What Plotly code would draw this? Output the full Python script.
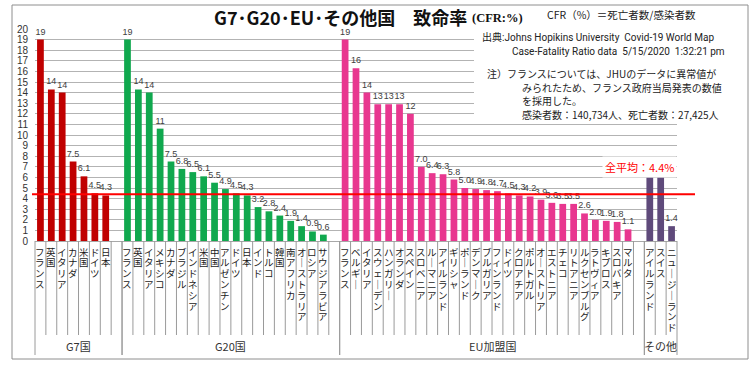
import plotly.graph_objects as go

# ---------------- data ----------------
g7_names = ["フランス", "英国", "イタリア", "カナダ", "米国", "ドイツ", "日本"]
g7_vals = [19.0, 14.3, 14.0, 7.5, 6.1, 4.5, 4.3]

g20_names = ["フランス", "英国", "イタリア", "メキシコ", "カナダ", "ブラジル", "インドネシア",
             "米国", "中国", "アルゼンチン", "ドイツ", "日本", "インド", "トルコ", "韓国",
             "南アフリカ", "オーストラリア", "ロシア", "サウジアラビア"]
g20_vals = [19.0, 14.3, 14.0, 10.6, 7.5, 6.8, 6.5, 6.1, 5.5, 4.9, 4.5, 4.3, 3.2, 2.8, 2.4,
            1.9, 1.4, 0.9, 0.6]

eu_names = ["フランス", "ベルギー", "イタリア", "スウェーデン", "ハンガリー", "オランダ", "スペイン",
            "スロベニア", "ルーマニア", "アイルランド", "ギリシャ", "ポーランド", "デンマーク",
            "ブルガリア", "フィンランド", "ドイツ", "クロアチア", "ポルトガル", "オーストリア",
            "エストニア", "チェコ", "リトアニア", "ルクセンブルグ", "ラトヴィア", "キプロス",
            "スロバキア", "マルタ"]
eu_vals = [19.0, 16.3, 14.0, 12.9, 12.9, 12.9, 12.0, 7.0, 6.4, 6.3, 5.8, 5.0, 4.9, 4.8, 4.7,
           4.5, 4.3, 4.2, 3.9, 3.6, 3.5, 3.5, 2.6, 2.0, 1.9, 1.8, 1.1]

oth_names = ["アイルランド", "スイス", "ニュージーランド"]
oth_vals = [6.0, 6.0, 1.4]
oth_label_hidden = [True, True, False]

group_titles = ["G7国", "G20国", "EU加盟国", "その他"]
group_colors = ["#C00000", "#10A84E", "#E8378F", "#5F4A7B"]
overall_avg = 4.4

# ---------------- geometry helpers ----------------
W, H = 750, 370
ML, MR, MT, MB = 35, 73, 29, 129
PW = W - ML - MR
PH = H - MT - MB


def xp(px):
    return (px - ML) / PW


def yp(py):
    return (H - MB - py) / PH


def fmt(v):
    return f"{v:.0f}" if v >= 9.95 else f"{v:.1f}"


groups = [
    (g7_names, g7_vals, [False] * len(g7_vals)),
    (g20_names, g20_vals, [False] * len(g20_vals)),
    (eu_names, eu_vals, [False] * len(eu_vals)),
    (oth_names, oth_vals, oth_label_hidden),
]

spans = []
start = 0
for gi, (names, vals, hid) in enumerate(groups):
    n = len(names)
    slots = n + (1 if gi < len(groups) - 1 else 0)
    spans.append((start, n, slots))
    start += slots
N = start
XMIN, XMAX = -0.5, N - 0.5


def dx2p(x):
    return (x - XMIN) / (XMAX - XMIN)


fig = go.Figure()
annotations = []
shapes = []

for gi, (names, vals, hid) in enumerate(groups):
    s, n, slots = spans[gi]
    xs = [s + i for i in range(n)]
    labels = ["" if h else fmt(v) for v, h in zip(vals, hid)]
    fig.add_trace(go.Bar(
        x=xs, y=vals, width=0.62,
        marker=dict(color=group_colors[gi], line=dict(width=0)),
        text=labels, textposition="outside", constraintext="none", cliponaxis=False,
        textfont=dict(size=9, color="#404040", family="Liberation Sans, Arial"),
        hoverinfo="skip",
    ))
    for i, name in enumerate(names):
        for k, ch in enumerate(name):
            if ch == "ー":
                ch = "｜"
            annotations.append(dict(
                x=s + i, xref="x", y=0, yref="paper", yanchor="middle", xanchor="center",
                yshift=-(10.5 + k * 10.8), text=ch, showarrow=False, borderpad=0,
                font=dict(size=9.5, family="Noto Sans CJK JP", color="#1a1a1a"),
            ))
    for b in range(1, slots):
        xb = dx2p(s + b - 0.5)
        shapes.append(dict(type="line", xref="paper", yref="paper", x0=xb, x1=xb,
                           y0=0, y1=yp(335), line=dict(color="#9A9A9A", width=1)))
    for xb_data in (s - 0.5, s + slots - 0.5):
        xb = dx2p(xb_data)
        shapes.append(dict(type="line", xref="paper", yref="paper", x0=xb, x1=xb,
                           y0=0, y1=yp(355), line=dict(color="#9A9A9A", width=1)))
    annotations.append(dict(
        x=dx2p(s - 0.5 + slots / 2), xref="paper", y=yp(346), yref="paper",
        text=group_titles[gi], showarrow=False, xanchor="center", yanchor="middle",
        font=dict(size=11, family="Noto Sans CJK JP", color="#333333"),
    ))

# white box behind the notes (hides gridlines)
shapes.append(dict(type="rect", xref="paper", yref="paper", x0=xp(474), x1=xp(700),
                   y0=yp(119), y1=yp(20), fillcolor="white", line=dict(width=0), layer="above"))

# average line
shapes.append(dict(type="line", xref="paper", yref="y", x0=xp(32), x1=xp(695),
                   y0=overall_avg, y1=overall_avg, line=dict(color="#FF0000", width=2),
                   layer="above"))

# chart border
shapes.append(dict(type="rect", xref="paper", yref="paper", x0=xp(12), x1=xp(748),
                   y0=yp(359), y1=yp(5), line=dict(color="#8E8E8E", width=1), layer="below"))

# title
annotations.append(dict(
    x=xp(468), xref="paper", y=yp(17), yref="paper", xanchor="right", yanchor="middle",
    text="<b>G7･G20･EU･その他国　致命率</b>", borderpad=0,
    showarrow=False, font=dict(size=18, family="Noto Sans CJK JP", color="#111111"),
))
annotations.append(dict(
    x=xp(471), xref="paper", y=yp(18), yref="paper", xanchor="left", yanchor="middle",
    text="<b>(CFR:%)</b>", borderpad=0,
    showarrow=False, font=dict(size=12.5, family="Liberation Serif", color="#111111"),
))

note_font = dict(size=10, family="Noto Sans CJK JP", color="#222222")
notes = [
    (546, 15, "CFR（%）＝死亡者数/感染者数", dict(size=10.5, family="Noto Sans CJK JP", color="#222222")),
    (481, 37, "出典:Johns Hopikins University  Covid-19 World Map",
     dict(size=10, family="Roboto, Noto Sans CJK JP", color="#222222")),
    (511, 51, "Case-Fatality Ratio data  5/15/2020  1:32:21 pm",
     dict(size=10, family="Roboto", color="#222222")),
    (486, 73, "注）フランスについては、JHUのデータに異常値が", note_font),
    (521, 87, "みられたため、フランス政府当局発表の数値", note_font),
    (521, 100, "を採用した。", note_font),
    (521, 114, "感染者数：140,734人、死亡者数：27,425人", note_font),
]
for px, py, t, f in notes:
    annotations.append(dict(x=xp(px), xref="paper", y=yp(py), yref="paper", borderpad=0,
                            xanchor="left", yanchor="middle", text=t.replace("  ", "&nbsp; "),
                            showarrow=False, font=f))

annotations.append(dict(
    x=xp(639), xref="paper", y=yp(167), yref="paper", xanchor="center", yanchor="middle",
    text=f"全平均：{overall_avg}%", showarrow=False, bgcolor="white", borderpad=2,
    font=dict(size=11, family="Noto Sans CJK JP", color="#FF0000"),
))

fig.update_layout(
    width=W, height=H, autosize=False,
    margin=dict(l=ML, r=MR, t=MT, b=MB, pad=0),
    paper_bgcolor="white", plot_bgcolor="white",
    barmode="overlay", showlegend=False,
    xaxis=dict(range=[XMIN, XMAX], showticklabels=False, showgrid=False, zeroline=False,
               showline=False, fixedrange=True),
    yaxis=dict(range=[0, 20], dtick=1, tick0=0, showgrid=True, gridcolor="#B3B3B3",
               gridwidth=1, zeroline=True, zerolinecolor="#A8A8A8", zerolinewidth=1,
               showline=False, ticks="", ticklabelstandoff=6,
               tickfont=dict(size=10, family="Liberation Sans, Arial", color="#333333"),
               fixedrange=True),
    annotations=annotations, shapes=shapes,
)

fig.write_html("out.html", config={"displayModeBar": False},
               post_script="document.body.style.margin='0';")
